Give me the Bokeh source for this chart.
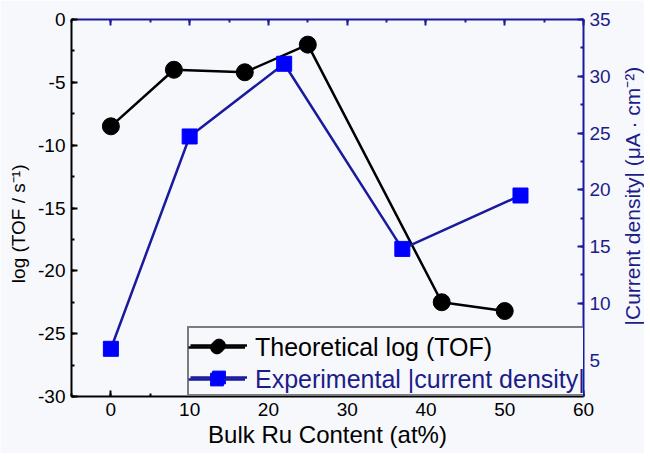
import math
from bokeh.plotting import figure
from bokeh.models import (Range1d, LinearAxis, SingleIntervalTicker, Legend,
                          LegendItem, CustomJSTickFormatter, Label)
from bokeh.embed import file_html
from bokeh.resources import INLINE

# ---- data ----
x_theo = [0, 8, 17, 25, 42, 50]
log_tof = [-8.5, -4.0, -4.2, -2.0, -22.5, -23.2]
x_exp = [0, 10, 22, 37, 52]
current = [6.0, 24.7, 31.1, 14.8, 19.5]

x_label = "Bulk Ru Content (at%)"
y_label = "log (TOF / s⁻¹)"
y2_label = "|Current density| (μA · cm⁻²)"
legend_labels = ["Theoretical log (TOF)", "Experimental |current density|"]

BLUE_LINE = "#1a1a9c"
NAVY = "#1c1c8a"
SQUARE = "#0000ff"
BG = "#f7f8fc"
FONT = "Liberation Sans"
NBSP = "\u00a0"

p = figure(width=644, height=453,
           x_range=Range1d(-5, 60), y_range=Range1d(-30, 0),
           output_backend="svg", toolbar_location=None,
           min_border_left=71, min_border_top=19,
           min_border_right=61, min_border_bottom=57,
           background_fill_color=BG, border_fill_color=BG,
           outline_line_color=None)
p.extra_y_ranges = {"y2": Range1d(1.8, 35)}
p.grid.visible = False

plain = CustomJSTickFormatter(code="return tick.toString();")


def style(ax, color, interval, label_color=None):
    ax.ticker = SingleIntervalTicker(interval=interval, num_minor_ticks=2)
    ax.formatter = plain
    ax.axis_line_color = color
    ax.axis_line_width = 2
    ax.major_tick_line_color = color
    ax.major_tick_line_width = 2
    ax.major_tick_in = 6
    ax.major_tick_out = 0
    ax.minor_tick_line_color = color
    ax.minor_tick_line_width = 2
    ax.minor_tick_in = 3
    ax.minor_tick_out = 0
    ax.major_label_text_font = FONT
    ax.major_label_text_font_size = "19px"
    ax.major_label_text_color = label_color or color
    ax.axis_label_text_font = FONT
    ax.axis_label_text_font_style = "normal"
    ax.axis_label_text_color = label_color or color


xax = p.xaxis[0]
style(xax, "black", 10)
xax.axis_label = x_label
xax.axis_label_text_font_size = "24px"
xax.major_label_standoff = 6
xax.axis_label_standoff = 2

yax = p.yaxis[0]
style(yax, "black", 5)
yax.axis_label = y_label + NBSP * 6
yax.axis_label_text_font_size = "19px"
yax.major_label_standoff = 6
yax.axis_label_standoff = 6

top = LinearAxis()
style(top, BLUE_LINE, 10)
top.formatter = CustomJSTickFormatter(code="return '';")
top.major_label_text_font_size = "1px"
top.major_label_standoff = 0
p.add_layout(top, "above")

rax = LinearAxis(y_range_name="y2")
style(rax, BLUE_LINE, 5, NAVY)
rax.major_label_standoff = 6
p.add_layout(rax, "right")

# right-axis title, reading bottom-to-top like the reference
r_title = Label(text=y2_label, x=632, y=195, x_units="canvas", y_units="canvas",
                angle=math.pi / 2, angle_units="rad",
                text_align="center", text_baseline="middle",
                text_font=FONT, text_font_size="21px", text_color=NAVY)
p.add_layout(r_title, "right")

l1 = p.line(x_theo, log_tof, line_color="black", line_width=2.5)
s1 = p.scatter(x_theo, log_tof, marker="circle", size=17,
               fill_color="black", line_color="black")
l2 = p.line(x_exp, current, y_range_name="y2", line_color=BLUE_LINE, line_width=2.5)
s2 = p.scatter(x_exp, current, y_range_name="y2", marker="square", size=15,
               fill_color=SQUARE, line_color=SQUARE)

common = dict(padding=1, spacing=0, glyph_width=57, glyph_height=32,
              label_standoff=10, label_text_font=FONT,
              label_text_font_size="25px", margin=0)

# frame legend (box + glyphs), real labels drawn by the two overlays below
legA = Legend(items=[LegendItem(label=" ", renderers=[l1, s1]),
                     LegendItem(label=" ", renderers=[l2, s2])],
              location=(116, 0), label_width=326,
              border_line_color="black", border_line_width=2,
              background_fill_color=BG, background_fill_alpha=1, **common)
legB1 = Legend(items=[LegendItem(label=legend_labels[0], renderers=[l1, s1])],
               location=(116, 32), label_text_color="black",
               border_line_alpha=0, background_fill_alpha=0, **common)
legB2 = Legend(items=[LegendItem(label=legend_labels[1], renderers=[l2, s2])],
               location=(116, 0), label_text_color=NAVY,
               border_line_alpha=0, background_fill_alpha=0, **common)
p.add_layout(legA)
p.add_layout(legB1)
p.add_layout(legB2)

open("out.html", "w").write(file_html(p, INLINE))
